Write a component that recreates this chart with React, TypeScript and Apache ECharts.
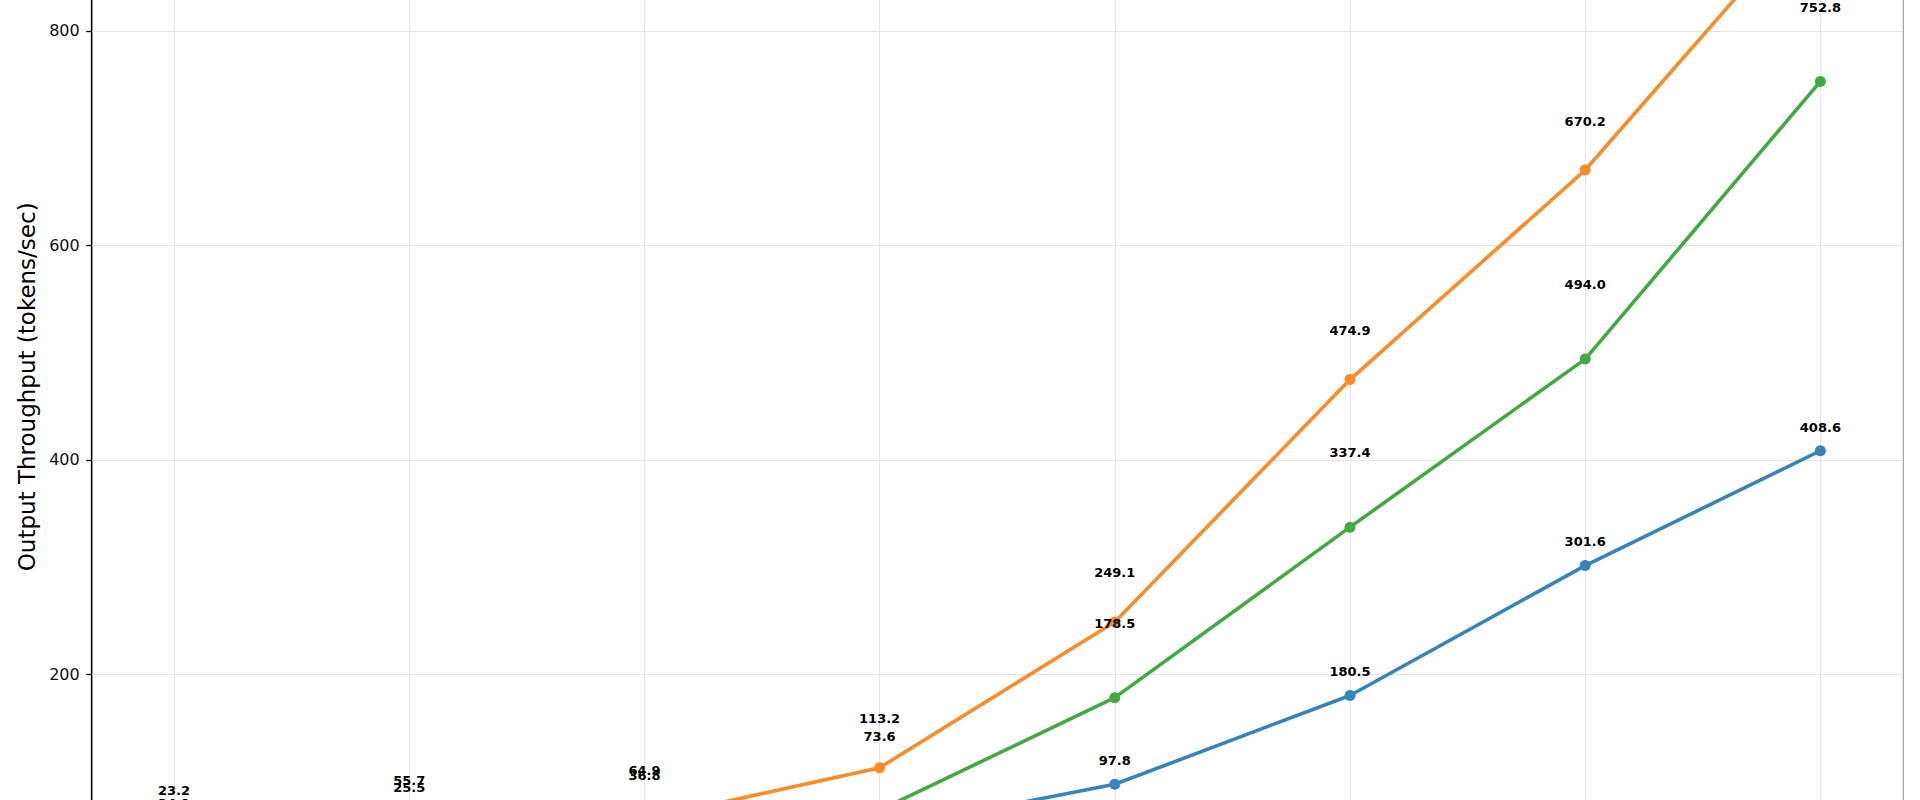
import React, { useEffect, useRef } from "react";
import * as echarts from "echarts";

const batchSizes = [1, 2, 4, 8, 16, 32, 64, 128];
const xIndex = batchSizes.map((_, i) => i);
const seriesNames = ["Config A", "Config B", "Config C"];
const blueValues = [16.2, 21.4, 33.5, 55.0, 97.8, 180.5, 301.6, 408.6];
const orangeValues = [34.1, 55.7, 64.9, 113.2, 249.1, 474.9, 670.2, 920.8];
const greenValues = [23.2, 25.5, 36.8, 73.6, 178.5, 337.4, 494.0, 752.8];
const yTickStep = 200;

export default function App() {
  const ref = useRef<HTMLDivElement>(null);
  useEffect(() => {
    const chart = echarts.init(ref.current!, null, { renderer: "svg" });
    const mk = (name: string, values: number[], color: string, off: number, z: number) => ({
      type: "line",
      name,
      data: values.map((v, i) => [xIndex[i], v]),
      symbol: "circle",
      symbolSize: 11,
      itemStyle: { color },
      lineStyle: { color, width: 3.6 },
      z,
      label: {
        show: true,
        position: "inside",
        offset: [0, -off],
        formatter: (p: any) => Number(p.value[1]).toFixed(1),
        fontFamily: "DejaVu Sans",
        fontWeight: "bold",
        fontSize: 13,
        color: "#000",
      },
    });
    chart.setOption({
      animation: false,
      backgroundColor: "#fff",
      grid: {
        left: 91.7,
        right: 17.3,
        top: 52.3,
        bottom: 28.6,
        show: true,
        borderColor: "#000",
        borderWidth: 1.3,
        backgroundColor: "#fff",
      },
      xAxis: {
        type: "value",
        min: -0.35,
        max: 7.35,
        minInterval: 1,
        maxInterval: 1,
        axisLine: { show: false },
        axisTick: { show: false },
        axisLabel: {
          show: true,
          showMinLabel: false,
          showMaxLabel: false,
          formatter: (v: number) => (Number.isInteger(v) && batchSizes[v] != null ? String(batchSizes[v]) : ""),
          fontFamily: "DejaVu Sans",
          fontSize: 16,
          color: "#1a1a1a",
        },
        splitLine: { show: true, lineStyle: { color: "#e6e6e6", width: 1 } },
      },
      yAxis: {
        type: "value",
        min: -30,
        max: 966.3,
        minInterval: yTickStep,
        maxInterval: yTickStep,
        axisLine: { show: true, onZero: false, lineStyle: { color: "#000", width: 1.3 } },
        axisTick: { show: true, length: 5.5, lineStyle: { color: "#000", width: 1.3 } },
        axisLabel: {
          fontFamily: "DejaVu Sans",
          fontSize: 16,
          color: "#111",
          margin: 12,
          showMinLabel: false,
          showMaxLabel: false,
        },
        splitLine: { show: true, lineStyle: { color: "#e6e6e6", width: 1 } },
        name: "Output Throughput (tokens/sec)",
        nameLocation: "middle",
        nameGap: 50,
        nameTextStyle: { fontFamily: "DejaVu Sans", fontSize: 23, color: "#000" },
      },
      series: [
        mk(seriesNames[0], blueValues, "#3585bb", 23.6, 2),
        mk(seriesNames[1], orangeValues, "#ff8b26", 49, 3),
        mk(seriesNames[2], greenValues, "#41aa41", 74.2, 4),
      ],
    });
    return () => chart.dispose();
  }, []);
  return (
    <div
      style={{
        position: "fixed",
        left: 0,
        top: 0,
        width: 1920,
        height: 800,
        overflow: "hidden",
        background: "#fff",
      }}
    >
      <div ref={ref} style={{ position: "absolute", left: 0, top: -200, width: 1920, height: 1150 }} />
    </div>
  );
}
